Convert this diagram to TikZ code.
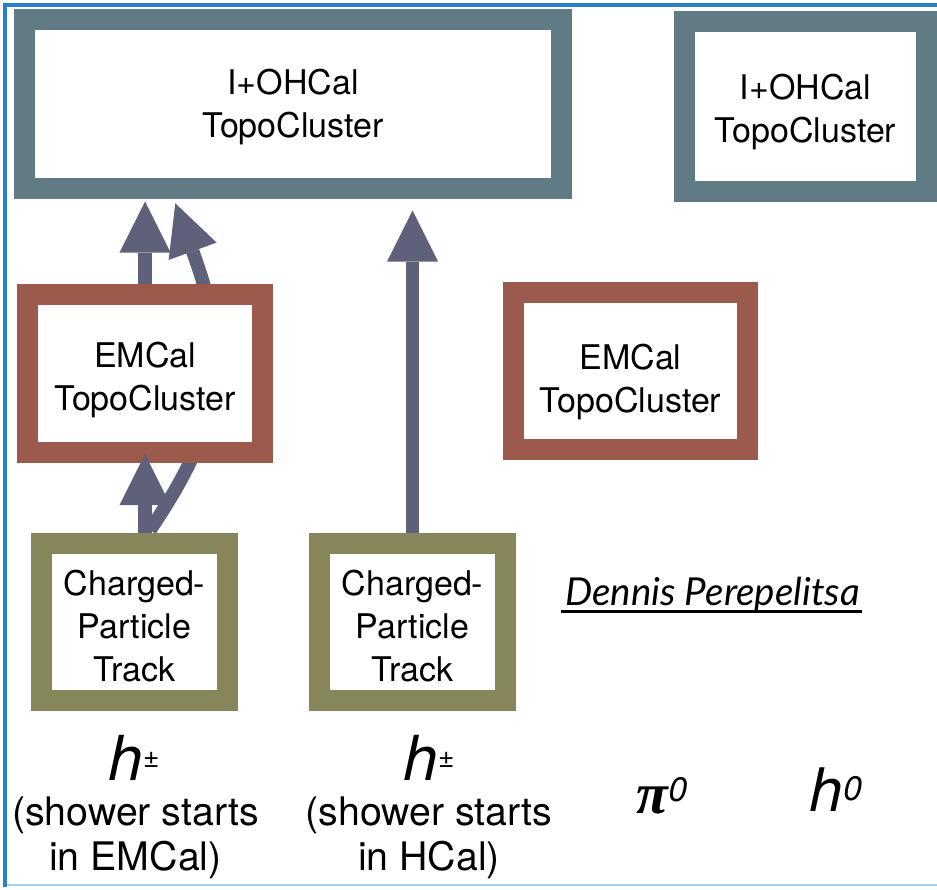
\documentclass[tikz,border=0pt]{standalone}
\usepackage{fontspec}
\setmainfont{TeX Gyre Heros}
\newfontfamily\latofont{Lato}
\newfontfamily\greekserif{Liberation Serif}
\usetikzlibrary{arrows.meta,calc}
\definecolor{boxgray}{HTML}{607B84}
\definecolor{boxred}{HTML}{9B5A4C}
\definecolor{boxolive}{HTML}{86865A}
\definecolor{arrowc}{HTML}{5E6179}
\definecolor{framec}{HTML}{2880C8}
\definecolor{framelight}{HTML}{A8D0EE}
\pgfdeclarelayer{paper}
\pgfdeclarelayer{behind}
\pgfsetlayers{paper,behind,main}
\tikzset{
  cbox/.style={draw, line width=21pt, fill=white, inner sep=0pt},
  grayframe/.style={cbox, draw=boxgray},
  redframe/.style={cbox, draw=boxred},
  oliveframe/.style={cbox, draw=boxolive},
  boxtext/.style={inner sep=0pt, align=center, text depth=0pt,
    font=\fontsize{34}{43}\selectfont},
  arr/.style={draw=arrowc, line width=13.5pt,
    -{Triangle[length=51pt,width=51pt,line width=0pt]}},
  lbl/.style={inner sep=0pt, anchor=base, align=center},
}
\begin{document}
\begin{tikzpicture}[x=1pt,y=-1pt]
\useasboundingbox (0,0) rectangle (937,889);
\begin{pgfonlayer}{paper}
\fill[white] (0,0) rectangle (937,889);
\draw[framelight, line width=2pt] (5,885) -- (937,885);
\draw[framec, line width=3.5pt] (5,887) -- (5,5) -- (937,5);
\end{pgfonlayer}

% boxes
\node[grayframe, minimum width=537pt, minimum height=169pt] (ohL) at (293,104) {};
\node[grayframe, minimum width=242pt, minimum height=170pt] (ohR) at (805.5,106) {};
\node[redframe, minimum width=235pt, minimum height=158pt] (emL) at (145,373.5) {};
\node[redframe, minimum width=234pt, minimum height=157pt] (emR) at (630.5,371) {};
\node[oliveframe, minimum width=186pt, minimum height=157pt] (trL) at (134.5,622) {};
\node[oliveframe, minimum width=186pt, minimum height=157pt] (trR) at (412.5,622) {};

% box texts
\node[boxtext] (ohLt) at ($(ohL.center)+(0,-0.5)$) {I+OHCal\\TopoCluster};
\node[boxtext] (ohRt) at ($(ohR.center)+(0,2.5)$) {I+OHCal\\TopoCluster};
\node[boxtext] (emLt) at ($(emL.center)+(0,3)$) {EMCal\\TopoCluster};
\node[boxtext] (emRt) at ($(emR.center)+(0,7.5)$) {EMCal\\TopoCluster};
\node[boxtext] (trLt) at ($(trL.center)+(0,4)$) {Charged-\\Particle\\Track};
\node[boxtext] (trRt) at ($(trR.center)+(0,4)$) {Charged-\\Particle\\Track};

% curved arrow behind the EMCal box
\coordinate (ctip) at (177,208);
\begin{pgfonlayer}{behind}
\draw[arr, shorten >=-5pt] ($(trL.north)+(15.5,-3)$) .. controls (230,412) and (228,349) .. (ctip);
\end{pgfonlayer}

% straight arrows
\draw[arr, shorten >=-9pt] (emL.south |- trL.north) -- (emL.south);
\draw[arr, shorten >=2.5pt] (emL.north) -- (emL.north |- ohL.south);
\draw[arr, shorten >=11.5pt] (trR.north) -- (trR.north |- ohL.south);

% labels
\node[lbl] (hL) at (134,780) {{\fontsize{62}{62}\selectfont\itshape h}\raisebox{13pt}{\fontsize{28}{28}\selectfont ±}};
\node[lbl] (hR) at (429,780) {{\fontsize{62}{62}\selectfont\itshape h}\raisebox{13pt}{\fontsize{28}{28}\selectfont ±}};
\node[lbl, font=\fontsize{39.3}{45}\selectfont] (sL) at (135.5,870) {(shower starts\\in EMCal)};
\node[lbl, font=\fontsize{39.3}{45}\selectfont] (sR) at (429,870) {(shower starts\\in HCal)};
\node[lbl] (pi0) at (662,813) {{\fontsize{58}{58}\greekserif\bfseries\itshape π}\raisebox{12pt}{\fontsize{34}{34}\selectfont\itshape 0}};
\node[lbl] (h0) at (836,811) {{\fontsize{60}{60}\selectfont\itshape h}\raisebox{11pt}{\fontsize{34}{34}\selectfont\itshape 0}};
\node[lbl, font=\fontsize{38.5}{38.5}\latofont\itshape] (dp) at (712.5,605) {Dennis Perepelitsa};
\draw[black, line width=3pt] ($(dp.base west)+(-4,6.5)$) -- ($(dp.base east)+(2,6.5)$);
\end{tikzpicture}
\end{document}
